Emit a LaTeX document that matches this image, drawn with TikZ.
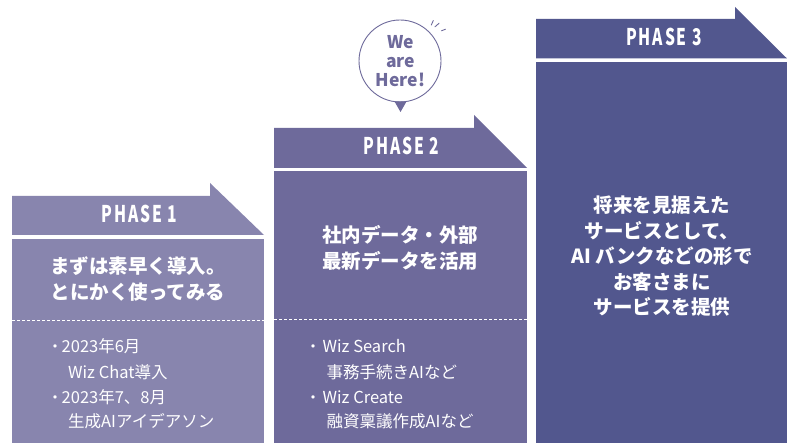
\documentclass[tikz,border=0pt]{standalone}
\usepackage{fontspec}
\usepackage{graphicx}
\newfontfamily\jpfont{Noto Sans CJK JP}
\newfontfamily\phasefont[LetterSpace=12]{Noto Sans CJK JP}
\definecolor{pone}{HTML}{8885AE}
\definecolor{ptwo}{HTML}{6E6A9B}
\definecolor{pthree}{HTML}{52578E}
\definecolor{bubblec}{HTML}{6E6A9B}
\tikzset{
  phaselabel/.style={text=white, inner sep=0pt, anchor=base},
  maintext/.style={text=white, inner sep=0pt, anchor=base, font=\jpfont\bfseries\fontsize{19.5}{19.5}\selectfont},
  bullettext/.style={text=white, inner sep=0pt, anchor=base west, font=\jpfont\fontsize{16.5}{16.5}\selectfont},
  bulletdot/.style={text=white, inner sep=0pt, anchor=base, font=\jpfont\fontsize{16}{16}\selectfont},
  dashline/.style={white, line width=0.8pt, dash pattern=on 3pt off 2pt},
  heretext/.style={text=bubblec, inner sep=0pt, anchor=base, font=\jpfont\bfseries\fontsize{17.5}{17.5}\selectfont},
  spark/.style={bubblec, line width=0.9pt, line cap=round}
}
\newcommand{\phasetxt}[1]{\scalebox{0.68}[1]{\phasefont\bfseries\fontsize{23}{23}\selectfont #1}}
\begin{document}
\begin{tikzpicture}[x=1pt,y=-1pt]
\useasboundingbox (0,0) rectangle (787,443);
\fill[white] (0,0) rectangle (787,443);

% PHASE 1
\fill[pone] (12,196) -- (210,196) -- (210,183) -- (264,235) -- (12,235) -- cycle;
\fill[pone] (12,239) rectangle (264,443);
\node[phaselabel] (p1) at (139.5,223) {\phasetxt{PHASE 1}};
\draw[dashline] (12,320) -- (264,320);
\node[maintext] (m1a) at (138,274) {まずは素早く導入。};
\node[maintext] (m1b) at (138,299.5) {とにかく使ってみる};
\node[bulletdot] (d1a) at (55,353) {・};
\node[bullettext] (b1a) at (61.5,353) {2023年6月};
\node[bullettext] (b1b) at (68,378) {Wiz Chat導入};
\node[bulletdot] (d1b) at (55,403) {・};
\node[bullettext] (b1c) at (61.5,403) {2023年7、8月};
\node[bullettext] (b1d) at (68,428) {生成AIアイデアソン};

% PHASE 2
\fill[ptwo] (274,128) -- (474,128) -- (474,115) -- (527,168) -- (274,168) -- cycle;
\fill[ptwo] (274,171) rectangle (527,443);
\node[phaselabel] (p2) at (401.5,154.5) {\phasetxt{PHASE 2}};
\draw[dashline] (274,319) -- (527,319);
\node[maintext] (m2a) at (400,243) {社内データ・外部};
\node[maintext] (m2b) at (400,269) {最新データを活用};
\node[bulletdot] (d2a) at (313,353) {・};
\node[bullettext] (b2a) at (322.5,353) {Wiz Search};
\node[bullettext] (b2b) at (326.5,378) {事務手続きAIなど};
\node[bulletdot] (d2b) at (313,403) {・};
\node[bullettext] (b2c) at (322.5,403) {Wiz Create};
\node[bullettext] (b2d) at (326.5,428) {融資稟議作成AIなど};

% PHASE 3
\fill[pthree] (536,19) -- (735,19) -- (735,7) -- (787,58.5) -- (536,58.5) -- cycle;
\fill[pthree] (536,62) rectangle (787,443);
\node[phaselabel] (p3) at (664,46) {\phasetxt{PHASE 3}};
\node[maintext] (m3a) at (662,213) {将来を見据えた};
\node[maintext] (m3b) at (662,238.5) {サービスとして、};
\node[maintext] (m3c) at (662,264) {AI バンクなどの形で};
\node[maintext] (m3d) at (662,289.5) {お客さまに};
\node[maintext] (m3e) at (662,315) {サービスを提供};

% bubble
\draw[bubblec, line width=0.9pt] (400,61) circle[radius=41];
\fill[bubblec] (394.5,101.5) -- (406.5,101.5) -- (400.5,112) -- cycle;
\node[heretext] (h1) at (400.5,49) {We};
\node[heretext] (h2) at (400.5,68) {are};
\node[heretext] (h3) at (400.5,87) {Here!};
\draw[spark] (431.3,25) -- (433.3,20.5);
\draw[spark] (435,26.8) -- (439,23.3);
\draw[spark] (441.5,30.8) -- (445.5,29.2);
\end{tikzpicture}
\end{document}
